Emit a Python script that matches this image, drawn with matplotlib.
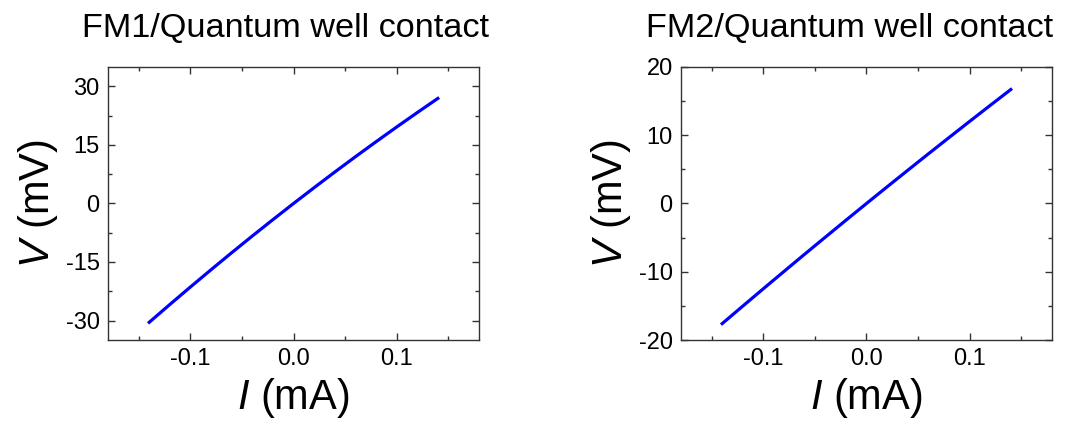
import numpy as np
import matplotlib
matplotlib.use('Agg')
import matplotlib.pyplot as plt
from matplotlib.ticker import MultipleLocator

plt.rcParams['font.family'] = ['Liberation Sans', 'DejaVu Sans']
plt.rcParams['mathtext.fontset'] = 'custom'
plt.rcParams['mathtext.rm'] = 'Liberation Sans'
plt.rcParams['mathtext.it'] = 'Liberation Sans:italic'
plt.rcParams['axes.unicode_minus'] = False

# current (mA) and voltage (mV)
current = [-0.14, -0.12, -0.10, -0.08, -0.06, -0.04, -0.02, 0.0,
           0.02, 0.04, 0.06, 0.08, 0.10, 0.12, 0.14]
v_fm1 = [-30.46, -25.90, -21.40, -16.98, -12.62, -8.34, -4.14, 0.0,
         4.06, 8.06, 11.98, 15.82, 19.60, 23.30, 26.94]
v_fm2 = [-17.60, -15.03, -12.48, -9.95, -7.43, -4.94, -2.46, 0.0,
         2.44, 4.86, 7.27, 9.65, 12.02, 14.37, 16.70]

titles = ["FM1/Quantum well contact", "FM2/Quantum well contact"]
title_x = [0.2685, 0.798]
ylims = [(-35, 35), (-20, 20)]
y_major = [15, 10]


def style_axis(ax, ylim, step):
    ax.set_xlim(-0.18, 0.18)
    ax.set_ylim(*ylim)
    ax.xaxis.set_major_locator(MultipleLocator(0.1))
    ax.xaxis.set_minor_locator(MultipleLocator(0.05))
    ax.yaxis.set_major_locator(MultipleLocator(step))
    ax.yaxis.set_minor_locator(MultipleLocator(step / 2))
    ax.tick_params(which="both", direction="in", top=True, right=True,
                   colors="#333333", labelcolor="black", labelsize=17, width=1)
    ax.tick_params(which="major", length=5, pad=6)
    ax.tick_params(which="minor", length=3)
    for sp in ax.spines.values():
        sp.set_color("#333333")
        sp.set_linewidth(1.0)
    ax.set_xlabel(r"$\mathit{I}$ (mA)", fontsize=30, labelpad=4)
    ax.set_ylabel(r"$\mathit{V}$ (mV)", fontsize=30, labelpad=4)
    ax.xaxis.set_major_formatter(plt.FuncFormatter(lambda v, p: f"{v:.1f}"))


fig = plt.figure(figsize=(10.65, 4.3), dpi=100)
ax1 = fig.add_axes([0.1014, 0.2093, 0.3484, 0.6349])
ax2 = fig.add_axes([0.6394, 0.2093, 0.3484, 0.6349])

for ax, v, ylim, step, title, tx in zip([ax1, ax2], [v_fm1, v_fm2], ylims,
                                        y_major, titles, title_x):
    ax.plot(current, v, color="#0000ff", linewidth=2.3)
    style_axis(ax, ylim, step)
    fig.text(tx, 0.914, title, fontsize=24.7, ha="center", va="baseline")

fig.savefig("out.png", dpi=100)
plt.close(fig)
